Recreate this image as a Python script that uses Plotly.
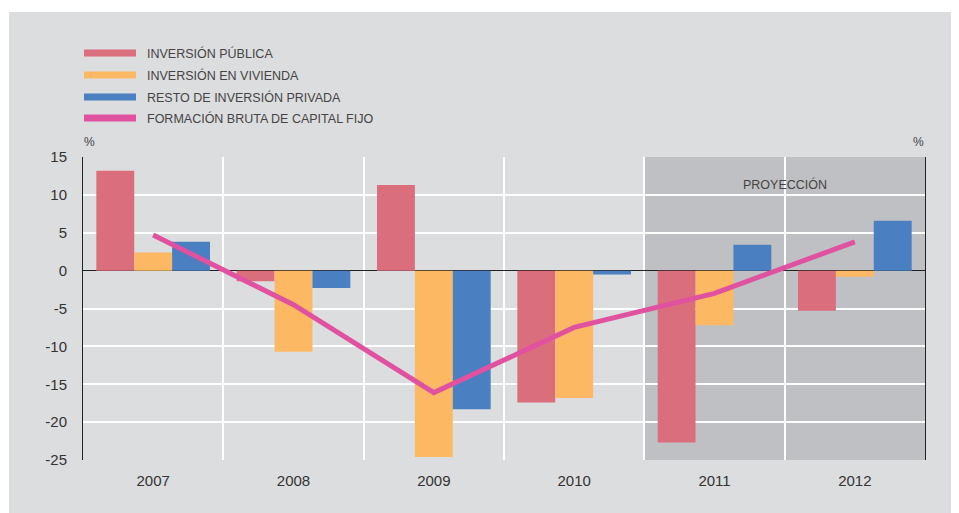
import plotly.graph_objects as go

years = ["2007", "2008", "2009", "2010", "2011", "2012"]
inversion_publica = [13.2, -1.4, 11.3, -17.4, -22.7, -5.3]
inversion_vivienda = [2.4, -10.7, -24.6, -16.8, -7.2, -0.8]
resto_privada = [3.8, -2.3, -18.3, -0.5, 3.4, 6.6]
fbcf = [4.7, -4.5, -16.1, -7.5, -3.0, 3.8]

names = ["INVERSIÓN PÚBLICA", "INVERSIÓN EN VIVIENDA", "RESTO DE INVERSIÓN PRIVADA",
         "FORMACIÓN BRUTA DE CAPITAL FIJO"]
colors = ["#db6e7c", "#fdb863", "#4a7fc1", "#e052a0"]
y_ticks = [-25, -20, -15, -10, -5, 0, 5, 10, 15]
y_tick_labels = ["-25", "-20", "-15", "-10", "-5", "0", "5", "10", "15"]

FONT = "Liberation Sans, Arial, sans-serif"
TXT = "#444444"

fig = go.Figure()
for vals, name, col in zip([inversion_publica, inversion_vivienda, resto_privada], names[:3], colors[:3]):
    fig.add_trace(go.Bar(x=years, y=vals, name=name, marker=dict(color=col, line=dict(width=0)),
                         showlegend=False))
fig.add_trace(go.Scatter(x=years, y=fbcf, mode="lines", name=names[3],
                         line=dict(color=colors[3], width=5), showlegend=False))

# page offset (body margin) of 8px
OX, OY = 8, 8
L, R, T, B = 83 - OX, 925 - OX, 157 - OY, 460 - OY
W, H = 959 - OX, 513 - OY
pw, ph = R - L, B - T

def px(x):
    return (x - OX - L) / pw

def py(y):
    return (B - (y - OY)) / ph

shapes = [
    dict(type="rect", xref="paper", yref="paper", x0=px(9), x1=px(956), y0=py(12), y1=py(513),
         fillcolor="#dcdddf", line=dict(width=0), layer="below"),
    dict(type="rect", xref="x", yref="y", x0=3.5, x1=5.5, y0=-25, y1=15,
         fillcolor="#bfc0c3", line=dict(width=0), layer="below"),
]

annotations = [
    dict(text="%", xref="paper", yref="paper", x=px(89), y=py(142), showarrow=False,
         font=dict(size=12, color=TXT, family=FONT), xanchor="center", yanchor="middle"),
    dict(text="%", xref="paper", yref="paper", x=px(918), y=py(142), showarrow=False,
         font=dict(size=12, color=TXT, family=FONT), xanchor="center", yanchor="middle"),
    dict(text="PROYECCIÓN", xref="x", yref="paper", x=4.5, y=py(184), showarrow=False,
         font=dict(size=12.5, color=TXT, family=FONT), xanchor="center", yanchor="middle"),
]

# manual legend
leg_y = [53, 75, 97, 118]
for name, col, yy in zip(names, colors, leg_y):
    shapes.append(dict(type="rect", xref="paper", yref="paper", x0=px(84), x1=px(136),
                       y0=py(yy + 3.5), y1=py(yy - 3.5), fillcolor=col, line=dict(width=0)))
    annotations.append(dict(text=name, xref="paper", yref="paper", x=px(145), y=py(yy),
                            showarrow=False, xanchor="left", yanchor="middle",
                            font=dict(size=12.5, color=TXT, family=FONT)))

fig.update_layout(
    width=W, height=H,
    margin=dict(l=L, r=W - R, t=T, b=H - B),
    paper_bgcolor="white",
    plot_bgcolor="rgba(0,0,0,0)",
    barmode="group", bargap=0.19, bargroupgap=0,
    font=dict(family=FONT, color=TXT, size=13),
    shapes=shapes, annotations=annotations,
    showlegend=False,
    xaxis=dict(type="category", range=[-0.5, 5.5], tickson="boundaries", showgrid=True,
               gridcolor="white", gridwidth=2, ticks="", ticklabelstandoff=10,
               tickfont=dict(size=15, color="#333333"), showline=False, zeroline=False),
    yaxis=dict(range=[-25, 15], tickvals=y_ticks, ticktext=y_tick_labels, showgrid=True,
               gridcolor="white", gridwidth=2,
               zeroline=True, zerolinecolor="#222222", zerolinewidth=1,
               showline=True, linecolor="#222222", linewidth=1, mirror=True,
               ticks="", ticklabelstandoff=12, tickfont=dict(size=15, color="#333333")),
)

fig.write_html("out.html")
